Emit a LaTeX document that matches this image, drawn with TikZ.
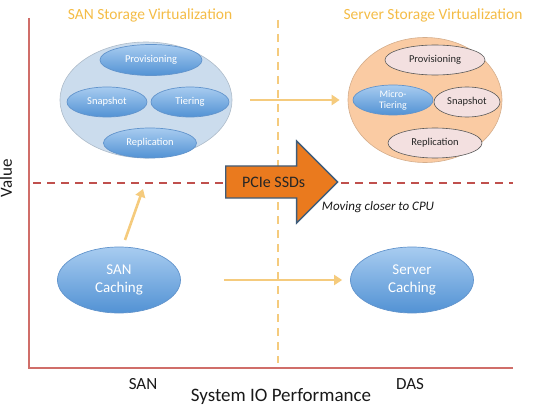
\documentclass[tikz,border=0pt]{standalone}
\usepackage{fontspec}
\setmainfont{Carlito}
\usepackage{tikz}
\usetikzlibrary{arrows.meta,positioning,shapes.geometric,shapes.arrows}
\definecolor{axisred}{RGB}{208,110,105}
\definecolor{dashred}{RGB}{192,80,77}
\definecolor{pathorange}{RGB}{245,203,125}
\definecolor{titleorange}{RGB}{244,188,70}
\definecolor{cloudblue}{RGB}{203,220,237}
\definecolor{cloudpeach}{RGB}{250,203,163}
\definecolor{bubbletop}{RGB}{168,204,240}
\definecolor{bubblebot}{RGB}{82,146,212}
\definecolor{bubbleedge}{RGB}{98,148,204}
\definecolor{pinkfill}{RGB}{243,224,224}
\definecolor{ssdorange}{RGB}{234,122,30}
\definecolor{ssdedge}{RGB}{62,92,122}
\tikzset{
  value-cloud/.style={ellipse, inner sep=0pt, line width=0.6pt},
  feature-blue/.style={ellipse, inner sep=0pt, draw=bubbleedge, line width=0.7pt,
    top color=bubbletop, bottom color=bubblebot, text=white, align=center,
    font=\fontsize{10.5}{11.5}\selectfont},
  feature-pink/.style={ellipse, inner sep=0pt, draw=black!65, line width=0.6pt,
    fill=pinkfill, text=black!85, align=center, font=\fontsize{10.5}{11.5}\selectfont},
  cache-blue/.style={feature-blue, minimum width=123pt, minimum height=66pt,
    font=\fontsize{15}{18}\selectfont},
  zone-title/.style={font=\fontsize{15.5}{17}\selectfont, text=titleorange},
  axis-label/.style={font=\fontsize{17}{19}\selectfont, text=black!90},
  move-arrow/.style={-{Triangle[length=8pt,width=10pt]}, draw=pathorange, line width=2.6pt}
}

\begin{document}
\begin{tikzpicture}[>=Latex, x=1pt, y=-1pt]
  \useasboundingbox (0,0) rectangle (539,420);

  % Axes
  \draw[axisred, line width=2.6pt] (29,18) -- (29,368) -- (513,368);
  \node[axis-label, rotate=90] (value) at (6,178) {Value};
  \node[axis-label] (san-x) at (143,384) {SAN};
  \node[axis-label] (das-x) at (410,384) {DAS};
  \node[axis-label, font=\fontsize{19}{21}\selectfont] (perf) at (281,397) {System IO Performance};

  % Quadrant lines
  \draw[dashred, line width=1.6pt, dash pattern=on 8pt off 6pt] (33,183) -- (513,183);
  \draw[pathorange, line width=2pt, dash pattern=on 8pt off 6pt] (278,20) -- (278,363);

  % SAN storage virtualization
  \node[zone-title] (san-title) at (150,15) {SAN Storage Virtualization};
  \node[value-cloud, fill=cloudblue, draw=cloudblue!85!black, minimum width=172pt, minimum height=116pt] (san-cloud) at (146,100) {};
  \node[feature-blue, minimum width=102pt, minimum height=31pt] (san-prov) at (151,60) {Provisioning};
  \node[feature-blue, minimum width=80pt, minimum height=30pt] (san-snap) at (107,102) {Snapshot};
  \node[feature-blue, minimum width=78pt, minimum height=30pt] (san-tier) at (190,102) {Tiering};
  \node[feature-blue, minimum width=93pt, minimum height=30pt] (san-repl) at (150,143) {Replication};

  % Server storage virtualization
  \node[zone-title] (srv-title) at (433,15) {Server Storage Virtualization};
  \node[value-cloud, fill=cloudpeach, draw=cloudpeach!85!black, minimum width=154pt, minimum height=125pt] (srv-cloud) at (425,100) {};
  \node[feature-pink, minimum width=100pt, minimum height=30pt] (srv-prov) at (435,60) {Provisioning};
  \node[feature-blue, minimum width=80pt, minimum height=30pt, font=\fontsize{10}{11}\selectfont] (srv-tier) at (393,100) {Micro-\\Tiering};
  \node[feature-pink, minimum width=66pt, minimum height=30pt] (srv-snap) at (467,102) {Snapshot};
  \node[feature-pink, minimum width=94pt, minimum height=30pt] (srv-repl) at (435,143) {Replication};

  % Caching
  \node[cache-blue] (san-cache) at (119,280) {SAN\\Caching};
  \node[cache-blue] (srv-cache) at (412,280) {Server\\Caching};

  % Movement arrows
  \coordinate (san-up) at (143,189);
  \draw[move-arrow, shorten <=18pt, shorten >=8pt] (san-cloud) -- (srv-cloud);
  \draw[move-arrow, shorten <=43pt, shorten >=8pt] (san-cache) -- (srv-cache);
  \draw[move-arrow, shorten <=6pt] (san-cache.north) ++(4,-1) -- (san-up);

  % PCIe SSDs block arrow
  \node[single arrow, anchor=tail, draw=ssdedge, fill=ssdorange, line width=1.3pt,
    minimum height=112pt, minimum width=82pt, single arrow head extend=20pt,
    inner xsep=6pt, inner ysep=7pt, font=\fontsize{16}{18}\selectfont, text=black!85] (pcie) at (225,182) {PCIe SSDs};
  \node[font=\itshape\fontsize{13}{15}\selectfont, text=black!90] (closer) at (378,207) {Moving closer to CPU};
\end{tikzpicture}
\end{document}
